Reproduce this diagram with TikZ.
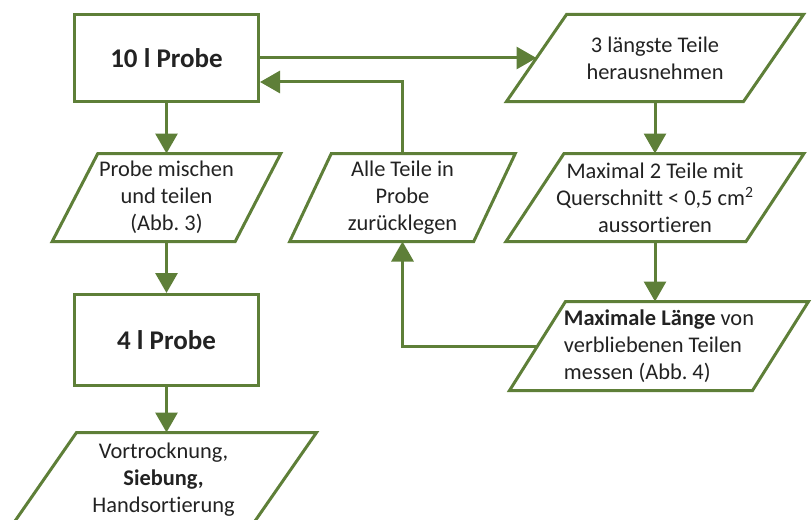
\documentclass[tikz,border=0pt]{standalone}
\usepackage{fontspec}
\setmainfont[Ligatures=NoCommon]{Carlito}
\frenchspacing
\usetikzlibrary{arrows.meta}
\definecolor{flgreen}{HTML}{5E7F38}
\definecolor{fltext}{HTML}{222222}
\tikzset{
  procbox/.style={draw=flgreen, line width=1.5pt, minimum width=92pt, align=center,
    font=\fontsize{13.5}{16}\selectfont\bfseries, text=fltext},
  iotext/.style={outer sep=0pt, inner sep=0pt, align=center,
    font=\fontsize{11.2}{13.5}\selectfont, text=fltext},
  ioline/.style={draw=flgreen, line width=1.5pt, line join=miter},
  arr/.style={-{Triangle[length=10pt, width=11pt]}, line width=1.5pt, flgreen},
}

\begin{document}
\begin{tikzpicture}[x=0.5pt, y=-0.5pt]
    \useasboundingbox (0,0) rectangle (812,519);
    % left column
    \node[procbox, minimum height=43.5pt] (probe10) at (166.5,58) {10 l Probe};
    \node[iotext, minimum width=91.5pt, minimum height=44pt] (mischen) at (166.5,197.5)
      {Probe mischen\\und teilen\\(Abb. 3)};
    \node[procbox, minimum height=45.5pt] (probe4) at (166.5,340) {4 l Probe};
    \node[iotext, minimum width=120pt, minimum height=47.5pt] (vortr) at (163.5,480)
      {Vortrocknung,\\\textbf{Siebung,}\\Handsortierung};
    % middle and right column
    \node[iotext, minimum width=92pt, minimum height=44pt] (alle) at (402.5,197.5)
      {Alle Teile in\\Probe\\zurücklegen};
    \node[iotext, minimum width=118.5pt, minimum height=43.5pt] (laengste) at (655,58)
      {3 längste Teile\\herausnehmen};
    \node[iotext, minimum width=120pt, minimum height=44pt] (maximal) at (655,197.5)
      {Maximal 2 Teile mit\\Querschnitt < 0,5 cm\textsuperscript{2}\\aussortieren};
    \node[iotext, align=left, minimum width=121.5pt, minimum height=44.5pt] (messen) at (659,346)
      {\textbf{Maximale Länge} von\\verbliebenen Teilen\\messen (Abb. 4)};
    % parallelogram outlines
    \foreach \n/\s in {mischen/11.4, vortr/16.5, alle/10.4, laengste/15, maximal/14.5, messen/14}
      \draw[ioline] ([xshift=\s pt]\n.north west) -- ([xshift=\s pt]\n.north east)
        -- ([xshift=-\s pt]\n.south east) -- ([xshift=-\s pt]\n.south west) -- cycle;
    % connectors
    \draw[arr] (probe10.south) -- (mischen.north);
    \draw[arr] (mischen.south) -- (mischen.south |- probe4.north);
    \draw[arr] (probe4.south) -- (probe4.south |- vortr.north);
    \draw[arr] (probe10.east) -- (laengste.west);
    \draw[arr] (laengste.south) -- (maximal.north);
    \draw[arr] (maximal.south) -- (maximal.south |- messen.north);
    \draw[arr] (messen.west) -| (alle.south);
    \draw[arr] (alle.north) |- ([yshift=-12pt]probe10.east);
  \end{tikzpicture}
\end{document}
